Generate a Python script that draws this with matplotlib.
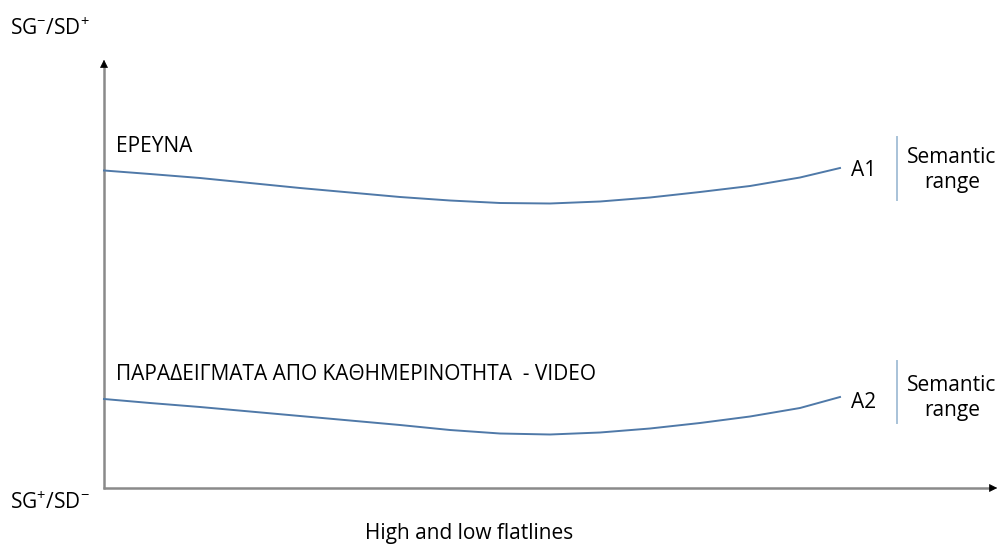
import matplotlib.pyplot as plt

plt.rcParams['font.family'] = ['Open Sans', 'DejaVu Sans']
plt.rcParams['mathtext.fontset'] = 'custom'
plt.rcParams['mathtext.rm'] = 'Open Sans'

# diagram coordinates are in pixels of the 1001x545 picture (y grows downward)
curve_x = [104, 150, 200, 250, 300, 350, 400, 450, 500, 550, 600, 650, 700, 750, 800, 840]
curve_a1 = [170.5, 174, 178, 183, 188, 192.5, 197, 200.5, 203, 203.5, 201.5, 197.5, 192, 186, 177.5, 168]
curve_a2 = [399, 403, 407, 411.5, 416, 420.5, 425, 430, 433.5, 434.5, 432.5, 428.5, 423, 416.5, 408, 397]

row_titles = ["ΕΡΕΥΝΑ", "ΠΑΡΑΔΕΙΓΜΑΤΑ ΑΠΟ ΚΑΘΗΜΕΡΙΝΟΤΗΤΑ  - VIDEO"]
end_labels = ["A1", "A2"]
range_label = "Semantic\nrange"
y_top_label = r"SG$^{-}$/SD$^{+}$"
y_bottom_label = r"SG$^{+}$/SD$^{-}$"
x_label = "High and low flatlines"

line_col = '#4f79a8'
axis_col = '#8a8a8a'
bar_col = '#a8c2d8'
fs = 15

fig = plt.figure(figsize=(10.01, 5.45), dpi=100)
ax = fig.add_axes([0, 0, 1, 1])
ax.set_xlim(0, 1001)
ax.set_ylim(545, 0)
ax.axis('off')

# axes with arrows
ax.plot([104, 104], [489, 64], color=axis_col, lw=1.8, solid_capstyle='butt')
ax.plot([103, 993], [488, 488], color=axis_col, lw=1.8, solid_capstyle='butt')
ax.annotate('', xy=(104, 57), xytext=(104, 68),
            arrowprops=dict(arrowstyle='-|>,head_length=0.5,head_width=0.25', color='black', lw=0.5))
ax.annotate('', xy=(1000, 488), xytext=(989, 488),
            arrowprops=dict(arrowstyle='-|>,head_length=0.5,head_width=0.25', color='black', lw=0.5))

for ys, title, lab, ty, ly, (b0, b1), ry in [
        (curve_a1, row_titles[0], end_labels[0], 146, 171, (137, 200), 170),
        (curve_a2, row_titles[1], end_labels[1], 375, 402, (361, 423), 398)]:
    ax.plot(curve_x, ys, color=line_col, lw=1.4)
    ax.text(116, ty, title, fontsize=fs, va='center', ha='left')
    ax.text(851, ly, lab, fontsize=fs, va='center', ha='left')
    ax.plot([897, 897], [b0, b1], color=bar_col, lw=1.4)
    ax.text(952, ry, range_label, fontsize=fs, va='center', ha='center', linespacing=1.2)

ax.text(10, 29, y_top_label, fontsize=fs, va='center', ha='left')
ax.text(10, 503, y_bottom_label, fontsize=fs, va='center', ha='left')
ax.text(469, 533, x_label, fontsize=fs, va='center', ha='center')

fig.savefig('out.png', dpi=100)
